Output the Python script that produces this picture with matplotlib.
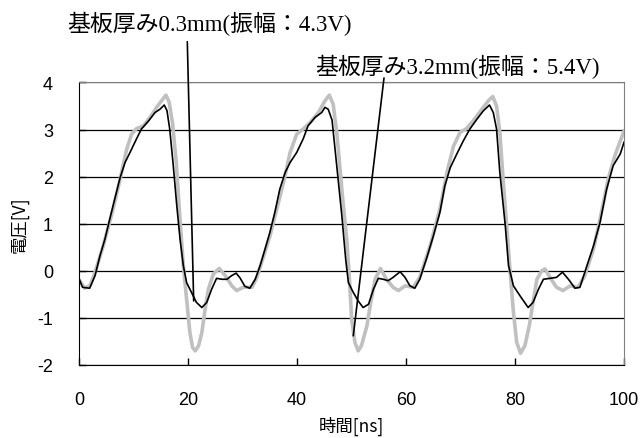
import matplotlib
matplotlib.use("Agg")
import matplotlib.pyplot as plt

plt.rcParams['axes.unicode_minus'] = False

# 基板厚み0.3mm (black)
t_thin = [0.0, 0.6, 1.9, 2.9, 3.8, 4.7, 5.6, 6.5, 7.5, 8.4, 9.3, 10.5, 11.4, 12.7,
          13.9, 14.8, 15.6, 16.1, 16.6, 17.2, 17.9, 18.5, 19.1, 19.7, 20.6, 21.5,
          22.5, 23.4, 24.3, 25.2, 26.2, 27.1, 28.0, 28.8, 29.5, 30.4, 31.3, 32.3,
          33.2, 34.1, 35.0, 35.9, 36.8, 37.8, 38.7, 39.9, 41.1, 42.0, 43.3, 44.5,
          45.1, 45.7, 46.4, 47.2, 48.2, 48.9, 49.4, 50.3, 51.2, 52.1, 53.1, 54.0,
          54.9, 55.8, 56.7, 57.6, 58.9, 59.8, 60.7, 61.6, 62.5, 63.8, 65.0, 66.2,
          67.1, 68.1, 69.3, 70.5, 71.7, 73.0, 74.2, 75.3, 76.0, 76.6, 77.2, 78.2,
          78.8, 79.7, 80.9, 82.4, 83.3, 84.3, 85.2, 86.4, 87.6, 88.7, 89.8, 91.0,
          91.9, 93.2, 94.4, 95.6, 96.8, 98.0, 99.3, 100.0]
v_thin = [-0.18, -0.35, -0.37, -0.10, 0.32, 0.67, 1.10, 1.52, 1.98, 2.30, 2.51, 2.80,
          3.01, 3.18, 3.36, 3.43, 3.52, 3.40, 3.01, 2.30, 1.38, 0.67, 0.11, -0.25,
          -0.46, -0.67, -0.78, -0.67, -0.39, -0.16, -0.18, -0.18, -0.10, -0.05,
          -0.15, -0.33, -0.37, -0.18, 0.11, 0.46, 0.82, 1.24, 1.73, 2.09, 2.30,
          2.51, 2.80, 3.08, 3.26, 3.36, 3.47, 3.43, 3.20, 2.30, 1.17, 0.25, -0.25,
          -0.46, -0.64, -0.78, -0.71, -0.39, -0.16, -0.18, -0.21, -0.14, -0.02,
          -0.14, -0.32, -0.37, -0.18, 0.28, 0.74, 1.24, 1.80, 2.19, 2.48, 2.76,
          3.01, 3.22, 3.40, 3.52, 3.36, 3.01, 2.09, 0.96, 0.11, -0.32, -0.53,
          -0.78, -0.67, -0.39, -0.18, -0.16, -0.14, -0.03, -0.18, -0.37, -0.35,
          0.11, 0.53, 1.03, 1.73, 2.23, 2.48, 2.73]

# 基板厚み3.2mm (grey)
t_thick = [0.0, 1.0, 2.0, 2.9, 4.4, 6.2, 7.5, 8.7, 9.6, 10.5, 11.8, 13.0, 14.2, 15.1,
           15.9, 16.5, 17.1, 17.8, 18.4, 19.1, 19.7, 20.3, 20.8, 21.3, 21.9, 22.5,
           23.1, 23.7, 24.6, 25.7, 26.8, 28.0, 28.9, 30.1, 31.7, 32.6, 35.0, 37.5,
           38.7, 39.9, 41.1, 42.4, 43.9, 45.1, 45.9, 46.6, 47.3, 48.3, 49.1, 49.6,
           50.0, 50.6, 51.2, 51.8, 52.8, 53.4, 54.3, 55.3, 56.4, 57.6, 58.6, 59.8,
           61.3, 62.5, 64.4, 66.2, 67.5, 68.7, 69.9, 71.1, 72.3, 73.9, 75.1, 75.9,
           76.6, 77.2, 77.8, 78.5, 79.1, 79.7, 80.3, 81.0, 81.8, 82.6, 83.4, 84.0,
           84.9, 85.5, 86.4, 87.6, 88.8, 90.1, 91.6, 92.8, 94.4, 95.6, 97.1, 98.3,
           100.0]
v_thick = [-0.20, -0.37, -0.31, -0.03, 0.53, 1.31, 1.95, 2.58, 2.90, 3.02, 3.08, 3.26,
           3.47, 3.61, 3.73, 3.58, 3.15, 2.30, 1.24, 0.11, -0.60, -1.31, -1.63,
           -1.70, -1.59, -1.31, -0.81, -0.39, -0.07, 0.05, -0.10, -0.32, -0.42,
           -0.35, -0.35, -0.14, 0.74, 1.88, 2.51, 2.90, 3.01, 3.15, 3.36, 3.61,
           3.73, 3.54, 2.90, 1.60, 0.67, -0.18, -1.03, -1.52, -1.70, -1.59, -1.17,
           -0.74, -0.18, 0.05, -0.18, -0.35, -0.42, -0.32, -0.35, -0.14, 0.53,
           1.31, 2.09, 2.65, 2.94, 3.02, 3.18, 3.43, 3.61, 3.70, 3.50, 2.94, 1.95,
           0.89, -0.03, -0.88, -1.52, -1.75, -1.59, -1.17, -0.60, -0.18, 0.00,
           0.04, -0.14, -0.35, -0.42, -0.32, -0.35, -0.10, 0.46, 1.10, 1.95, 2.44,
           2.97]

x_ticks = [0, 20, 40, 60, 80, 100]
y_ticks = [-2, -1, 0, 1, 2, 3, 4]

label_thin = "基板厚み0.3mm(振幅：4.3V)"
label_thick = "基板厚み3.2mm(振幅：5.4V)"
# annotation targets on the curves (data coords)
target_thin = (21.0, -0.64)
target_thick = (50.3, -1.38)

fig = plt.figure(figsize=(6.42, 4.39), dpi=100)
ax = fig.add_axes([0.1235, 0.1663, 0.8485, 0.6437])

ax.plot(t_thick, v_thick, color='#c0c0c0', lw=2.6, zorder=2)
ax.plot(t_thin, v_thin, color='black', lw=1.2, zorder=3)

ax.set_xlim(0, 100)
ax.set_ylim(-2, 4)
ax.set_xticks(x_ticks)
ax.set_yticks(y_ticks)
ax.yaxis.grid(True, color='black', lw=0.9)
ax.set_axisbelow(True)
ax.tick_params(direction='in', length=5, width=1,
               labelsize=13, labelfontfamily='Liberation Sans')
ax.tick_params(axis='x', pad=19)
ax.tick_params(axis='y', pad=19)
for s in ['top', 'right']:
    ax.spines[s].set_color('#808080')
for s in ['left', 'bottom']:
    ax.spines[s].set_color('black')

cjk = ['Noto Sans CJK JP', 'DejaVu Sans']
ax.set_xlabel("時間[ns]", family=cjk, fontsize=12.5, labelpad=5)
ax.set_ylabel("電圧[V]", family=cjk, fontsize=12.5, labelpad=6)

mixed = ['Liberation Serif', 'Noto Sans CJK JP']
fig.text(67 / 642, 1 - 24 / 439, label_thin, family=mixed, fontsize=16.5, va='center')
fig.text(315 / 642, 1 - 66.5 / 439, label_thick, family=mixed, fontsize=16.5, va='center')

ax.annotate('', xy=target_thin, xycoords='data',
            xytext=(187.3, 439 - 42.7), textcoords='figure pixels',
            arrowprops=dict(arrowstyle='-', color='black', lw=1.2,
                            shrinkA=0, shrinkB=0), annotation_clip=False)
ax.annotate('', xy=target_thick, xycoords='data',
            xytext=(384, 439 - 79), textcoords='figure pixels',
            arrowprops=dict(arrowstyle='-', color='black', lw=1.2,
                            shrinkA=0, shrinkB=0), annotation_clip=False)

fig.savefig("out.png", dpi=100)
